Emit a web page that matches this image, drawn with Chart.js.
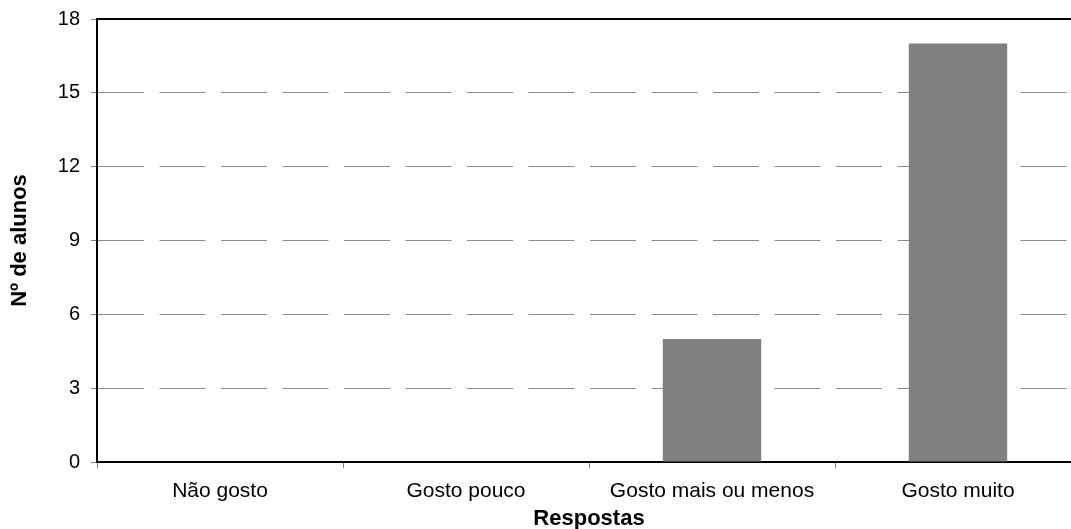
<!DOCTYPE html>
<html>
<head>
<meta charset="utf-8">
<script src="https://cdn.jsdelivr.net/npm/chart.js@4/dist/chart.umd.min.js"></script>
<style>
  html, body { margin: 0; padding: 0; background: #fff; overflow: hidden; }
</style>
</head>
<body>
<canvas id="chart" width="1090" height="529"></canvas>
<script>
const categories = ["Não gosto", "Gosto pouco", "Gosto mais ou menos", "Gosto muito"];
const alunos = [0, 0, 5, 17];
const yTicks = [0, 3, 6, 9, 12, 15, 18];

// Solid frame line along the top of the plot area
const topBorder = {
    id: "topBorder",
    afterDraw(chart) {
        const { left, right, top } = chart.chartArea;
        const ctx = chart.ctx;
        ctx.save();
        ctx.strokeStyle = "#000";
        ctx.lineWidth = 2;
        ctx.beginPath();
        ctx.moveTo(left - 1, top);
        ctx.lineTo(right, top);
        ctx.stroke();
        ctx.restore();
    },
};

const ctx = document.getElementById("chart").getContext("2d");

new Chart(ctx, {
    type: "bar",
    data: {
        labels: categories,
        datasets: [{
            data: alunos,
            backgroundColor: "#808080",
            borderWidth: 0,
            categoryPercentage: 1,
            barPercentage: 0.4,
        }],
    },
    options: {
        responsive: false,
        animation: false,
        layout: { padding: { left: 0, top: 19, right: 9, bottom: 0 } },
        plugins: {
            legend: { display: false },
            tooltip: { enabled: false },
        },
        scales: {
            x: {
                z: 1,
                grid: {
                    offset: true,
                    drawOnChartArea: false,
                    drawTicks: true,
                    tickLength: 6,
                    tickColor: "#808080",
                },
                border: { color: "#000", width: 2 },
                ticks: {
                    color: "#000",
                    padding: 11,
                    maxRotation: 0,
                    font: { family: "Arial, 'Liberation Sans', sans-serif", size: 21 },
                },
                title: {
                    display: true,
                    text: "Respostas",
                    color: "#000",
                    padding: { top: 0, bottom: -1 },
                    font: { family: "Arial, 'Liberation Sans', sans-serif", size: 22, weight: "bold", lineHeight: 1 },
                },
                afterFit(scale) {
                    scale.height = 67;
                    scale.paddingLeft = 0;
                    scale.paddingRight = 0;
                },
            },
            y: {
                min: 0,
                max: 18,
                afterBuildTicks(scale) {
                    scale.ticks = yTicks.map(v => ({ value: v }));
                },
                grid: {
                    color: "#8c8c8c",
                    lineWidth: 1,
                    drawTicks: true,
                    tickLength: 6,
                    tickColor: "#808080",
                    tickBorderDash: [],
                },
                // border.dash sets the dash pattern of the grid lines
                border: { color: "#000", width: 2, dash: [46, 15.5] },
                ticks: {
                    color: "#000",
                    padding: 11,
                    font: { family: "Arial, 'Liberation Sans', sans-serif", size: 20 },
                },
                title: {
                    display: true,
                    text: "Nº de alunos",
                    color: "#000",
                    padding: { top: 9, bottom: 0 },
                    font: { family: "Arial, 'Liberation Sans', sans-serif", size: 22, weight: "bold", lineHeight: 1 },
                },
                afterFit(scale) {
                    scale.width = 97;
                    scale.paddingTop = 0;
                    scale.paddingBottom = 0;
                },
            },
        },
    },
    plugins: [topBorder],
});
</script>
</body>
</html>
